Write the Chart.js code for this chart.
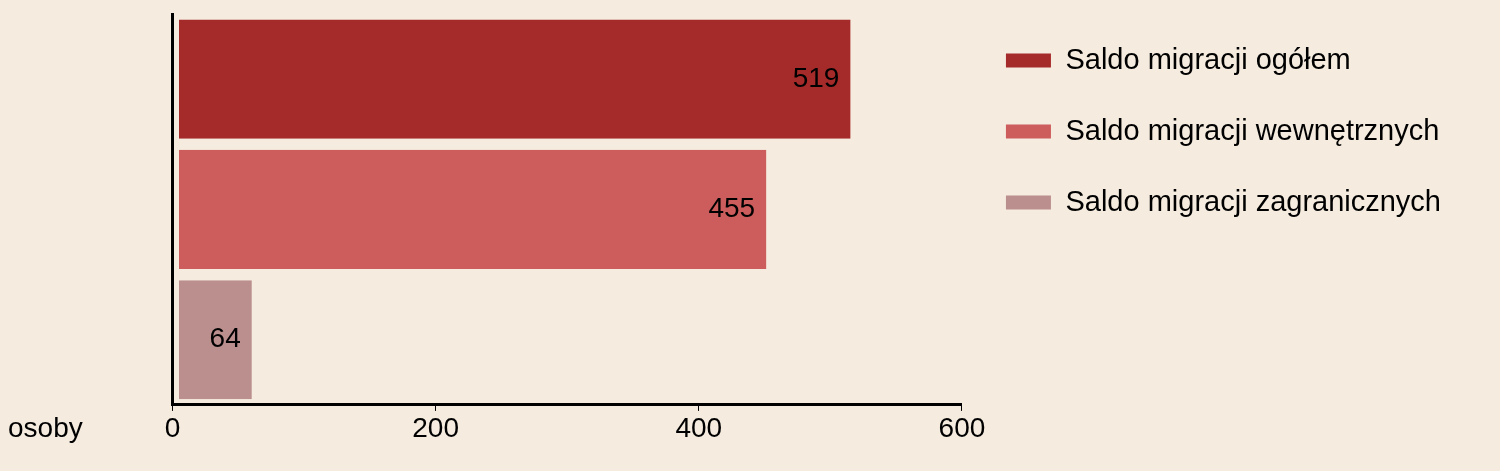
<!DOCTYPE html>
<html lang="pl">
<head>
<meta charset="utf-8">
<title>Saldo migracji</title>
<script src="https://cdn.jsdelivr.net/npm/chart.js@4/dist/chart.umd.min.js"></script>
<style>
  html, body { margin: 0; padding: 0; background: #f5ebde; }
  .wrap { position: relative; width: 1500px; height: 471px; }
</style>
</head>
<body>
<div class="wrap"><canvas id="chart"></canvas></div>
<script>
// values
const seriesNames = [
  "Saldo migracji ogółem",
  "Saldo migracji wewnętrznych",
  "Saldo migracji zagranicznych",
];
const seriesValues = [519, 455, 64];
const seriesColors = ["#a52a2a", "#cd5c5c", "#bc8f8f"];
const axisTicks = [0, 200, 400, 600];
const unitLabel = "osoby";

const FONT = "'Liberation Sans', Arial, sans-serif";

Chart.defaults.color = "#000";
Chart.defaults.font.family = FONT;

// numbers at the end of each bar + the unit caption left of the x ticks
const barText = {
  id: "barText",
  afterDatasetsDraw(chart) {
    const { ctx } = chart;
    ctx.save();
    ctx.font = `28px ${FONT}`;
    ctx.fillStyle = "#000";
    ctx.textAlign = "right";
    ctx.textBaseline = "middle";
    chart.data.datasets.forEach((ds, i) => {
      chart.getDatasetMeta(i).data.forEach((bar, j) => {
        ctx.fillText(String(ds.data[j]), bar.x - 16, bar.y);
      });
    });
    const x = chart.scales.x;
    ctx.textAlign = "left";
    ctx.textBaseline = "top";
    ctx.fillText(unitLabel, 8, x.top + 6 + 4);
    ctx.restore();
  },
};

// legend sits a bit higher / further right than the layout puts it
const legendNudge = {
  id: "legendNudge",
  afterLayout(chart) {
    const lg = chart.legend;
    lg.top -= 10;
    lg.bottom -= 10;
    lg.left += 2;
    lg.right += 2;
  },
};

new Chart(document.getElementById("chart"), {
  type: "bar",
  data: {
    labels: [""],
    datasets: seriesNames.map((name, i) => ({
      label: name,
      data: [seriesValues[i]],
      backgroundColor: seriesColors[i],
      borderColor: "rgba(0,0,0,0)",
      borderWidth: { left: 6, right: 5, top: 0, bottom: 0 },
      borderSkipped: false,
    })),
  },
  options: {
    indexAxis: "y",
    responsive: true,
    maintainAspectRatio: false,
    animation: false,
    events: [],
    layout: { padding: { left: 164.5, top: 14, right: 51, bottom: 22.5 } },
    datasets: { bar: { categoryPercentage: 1, barPercentage: 0.915 } },
    scales: {
      x: {
        min: 0,
        max: 600,
        afterBuildTicks: (scale) => {
          scale.ticks = axisTicks.map((v) => ({ value: v }));
        },
        border: { color: "#000", width: 3 },
        grid: { drawOnChartArea: false, drawTicks: true, tickLength: 6, tickColor: "#000" },
        ticks: { font: { size: 28 }, padding: 2, color: "#000", maxRotation: 0 },
      },
      y: {
        border: { color: "#000", width: 3 },
        grid: { display: false },
        ticks: { display: false },
      },
    },
    plugins: {
      tooltip: { enabled: false },
      legend: {
        position: "right",
        align: "start",
        maxWidth: 600,
        labels: {
          boxWidth: 45,
          boxHeight: 14,
          padding: 42,
          color: "#000",
          font: { size: 29 },
        },
      },
    },
  },
  plugins: [barText, legendNudge],
});
</script>
</body>
</html>
